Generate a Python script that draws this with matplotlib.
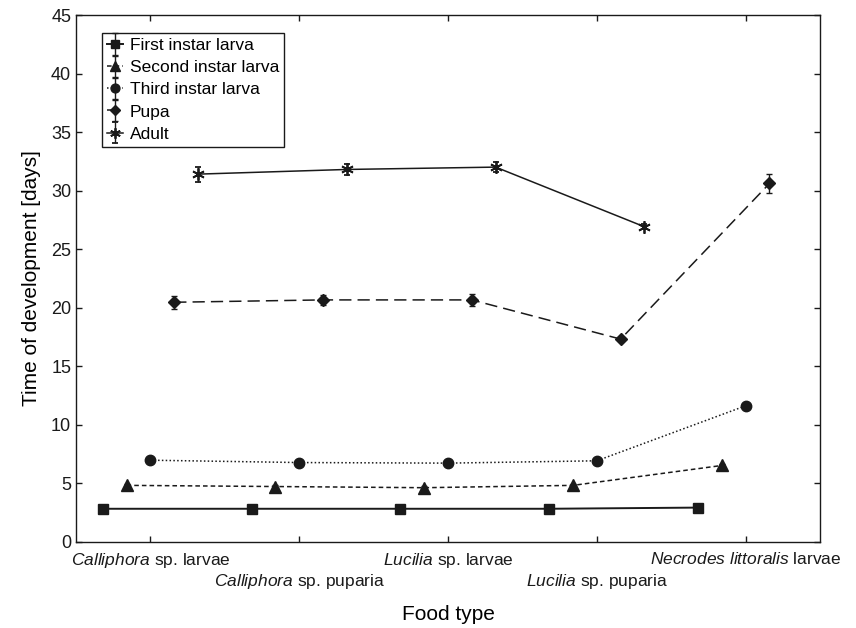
import numpy as np
import matplotlib
matplotlib.use("Agg")
import matplotlib.pyplot as plt
from matplotlib.container import ErrorbarContainer
from matplotlib.legend_handler import HandlerErrorbar

plt.rcParams['font.family'] = ['Liberation Sans', 'DejaVu Sans']
plt.rcParams['mathtext.fontset'] = 'custom'
plt.rcParams['mathtext.rm'] = 'Liberation Sans'
plt.rcParams['mathtext.it'] = 'Liberation Sans:italic'

# Food types (x categories)
food_types = [
    r'$\mathit{Calliphora}$ sp. larvae',
    r'$\mathit{Calliphora}$ sp. puparia',
    r'$\mathit{Lucilia}$ sp. larvae',
    r'$\mathit{Lucilia}$ sp. puparia',
    r'$\mathit{Necrodes\ littoralis}$ larvae',
]

# Mean development time [days] and error per stage
first_instar = [2.8, 2.8, 2.8, 2.8, 2.9]
first_err = [0.1, 0.1, 0.1, 0.1, 0.1]
second_instar = [4.8, 4.7, 4.6, 4.8, 6.5]
second_err = [0.15, 0.15, 0.15, 0.15, 0.15]
third_instar = [6.95, 6.75, 6.7, 6.9, 11.6]
third_err = [0.15, 0.15, 0.15, 0.15, 0.15]
pupa = [20.45, 20.65, 20.65, 17.3, 30.6]
pupa_err = [0.55, 0.4, 0.5, 0.2, 0.8]
adult = [31.4, 31.8, 32.0, 26.9]
adult_err = [0.65, 0.45, 0.45, 0.2]

ink = '#1a1a1a'
series = [
    ('First instar larva', first_instar, first_err, -0.32,
     dict(marker='s', ms=7, linestyle='-', lw=1.4)),
    ('Second instar larva', second_instar, second_err, -0.16,
     dict(marker='^', ms=8, linestyle=(0, (3, 2)), lw=1.1)),
    ('Third instar larva', third_instar, third_err, 0.0,
     dict(marker='o', ms=7.5, linestyle=(0, (1, 1.5)), lw=1.1)),
    ('Pupa', pupa, pupa_err, 0.16,
     dict(marker='D', ms=6.5, linestyle=(0, (8, 4)), lw=1.1)),
    ('Adult', adult, adult_err, 0.32,
     dict(marker=(6, 2, 0), ms=9, mew=1.3, linestyle='-', lw=1.1)),
]

fig = plt.figure(figsize=(8.56, 6.28), dpi=100)
ax = fig.add_axes([0.0888, 0.1377, 0.8692, 0.8384])

x = np.arange(1, len(food_types) + 1)
for label, vals, errs, offset, style in series:
    xs = x[:len(vals)] + offset
    ax.errorbar(xs, vals, yerr=errs, color=ink, mfc=ink, mec=ink,
                ecolor=ink, elinewidth=1.0, capsize=2.5, capthick=1.0,
                label=label, **style)

ax.set_xlim(0.5, 5.5)
ax.set_ylim(0, 45)
ax.set_yticks(np.arange(0, 46, 5))
ax.set_xticks(x)
ax.set_xticklabels(food_types)
for i, tick in enumerate(ax.xaxis.get_major_ticks()):
    tick.set_pad(7 if i % 2 == 0 else 22)

ax.tick_params(direction='in', top=True, right=True, length=4, width=1,
               labelsize=13, colors=ink)
ax.tick_params(axis='x', labelsize=12.5)
for spine in ax.spines.values():
    spine.set_linewidth(1.0)
    spine.set_color(ink)

ax.set_xlabel('Food type', fontsize=15, labelpad=10)
ax.set_ylabel('Time of development [days]', fontsize=15, labelpad=7)

# tall error bars in the legend keys
leg = ax.legend(loc='upper left', bbox_to_anchor=(0.035, 0.966),
                fontsize=12.5, frameon=True, fancybox=False,
                edgecolor=ink, framealpha=1, borderpad=0.3,
                labelspacing=0.4, handlelength=0.9, handletextpad=0.4,
                borderaxespad=0, markerscale=0.85,
                handler_map={ErrorbarContainer: HandlerErrorbar(xerr_size=0.5, yerr_size=0.62)})
leg.get_frame().set_linewidth(1.0)

fig.savefig('out.png', dpi=100)
